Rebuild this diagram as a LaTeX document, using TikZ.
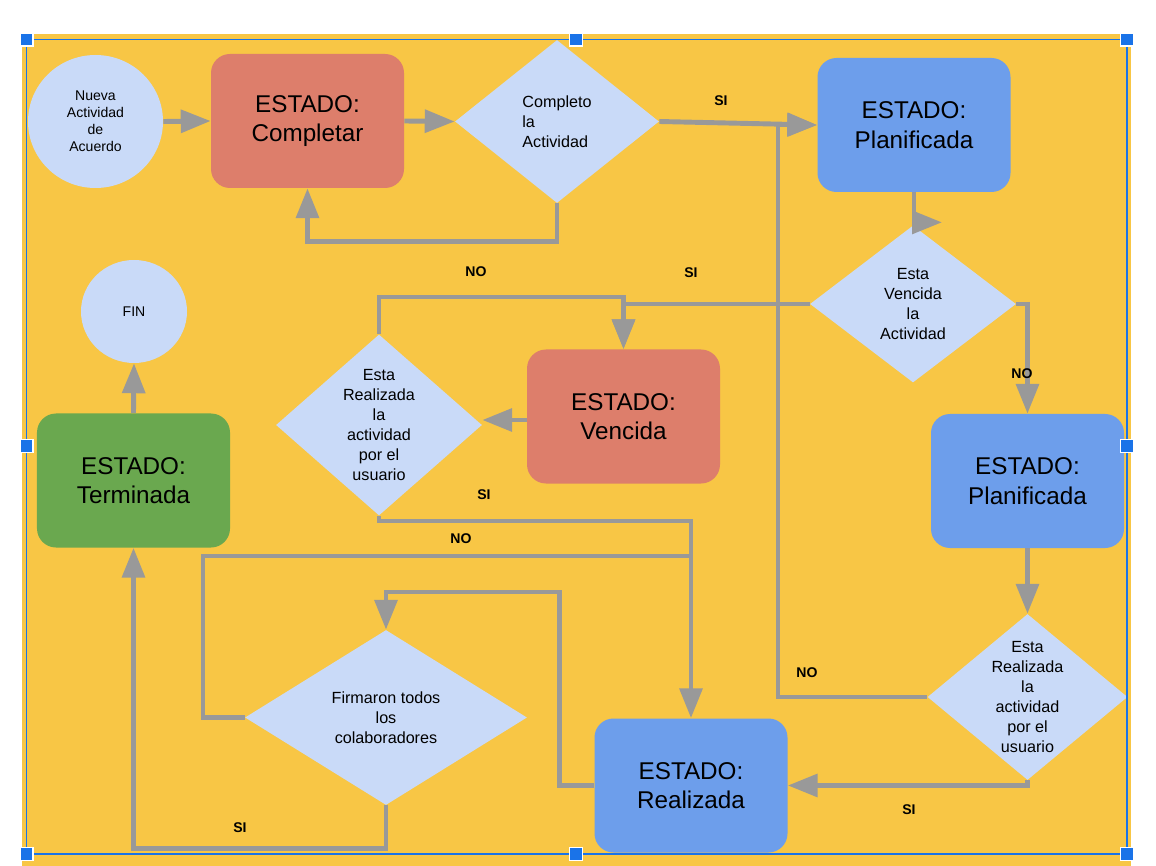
\documentclass[tikz,border=0pt]{standalone}
\usepackage{fontspec}
\setmainfont{Liberation Sans}
\usetikzlibrary{shapes.geometric,arrows.meta}
\definecolor{fondo}{HTML}{F8C645}
\definecolor{celeste}{HTML}{C9DAF8}
\definecolor{azul}{HTML}{6D9EEB}
\definecolor{salmon}{HTML}{DD7E6B}
\definecolor{verde}{HTML}{6AA84F}
\definecolor{gris}{HTML}{999999}
\definecolor{seleccion}{HTML}{1A73E8}

\begin{document}
\begin{tikzpicture}[scale=0.2,
    estado/.style={rounded corners=0.38cm, minimum width=3.86cm, minimum height=2.68cm, align=center, font=\fontsize{13.8}{16.8}\selectfont},
    pregunta/.style={diamond, fill=celeste, inner sep=0pt},
    circulo/.style={ellipse, fill=celeste, inner sep=0pt, align=center, font=\fontsize{8}{9.6}\selectfont},
    texto/.style={align=center, font=\fontsize{9.2}{11.4}\selectfont},
    flujo/.style={draw=gris, line width=2.8pt, -{Triangle[length=17pt,width=12.8pt]}},
    linea/.style={draw=gris, line width=2.8pt},
    etiqueta/.style={font=\bfseries\fontsize{8}{9.6}\selectfont}]
        \useasboundingbox (0,0) rectangle (115.6,-86.6);
        \fill [fondo] (2.2,-3.4) rectangle (113.1,-86.6);
        % nodos
        \node [circulo, minimum width=2.7cm, minimum height=2.66cm] (nueva) at (9.55,-12.15) {Nueva\\Actividad\\de\\Acuerdo};
        \node [estado, fill=salmon] (completar) at (30.75,-12.1) {ESTADO:\\Completar};
        \node [pregunta, minimum width=4.08cm, minimum height=3.26cm] (q1) at (55.7,-12.15) {};
        \node [texto, align=left] (q1t) at (q1) {Completo\\la\\Actividad};
        \node [estado, fill=azul] (plan1) at (91.4,-12.5) {ESTADO:\\Planificada};
        \node [pregunta, minimum width=4.12cm, minimum height=3.14cm] (q2) at (91.3,-30.4) {};
        \node [texto] (q2t) at (q2) {Esta\\Vencida\\la\\Actividad};
        \node [estado, fill=azul] (plan2) at (102.75,-48.1) {ESTADO:\\Planificada};
        \node [pregunta, minimum width=4.0cm, minimum height=3.32cm] (q3) at (102.75,-69.7) {};
        \node [texto] (q3t) at (q3) {Esta\\Realizada\\la\\actividad\\por el\\usuario};
        \node [estado, fill=azul] (realizada) at (69.1,-78.55) {ESTADO:\\Realizada};
        \node [pregunta, minimum width=5.64cm, minimum height=3.5cm] (q4) at (38.6,-71.75) {};
        \node [texto] (q4t) at (q4) {Firmaron todos\\los\\colaboradores};
        \node [estado, fill=verde] (terminada) at (13.35,-48.05) {ESTADO:\\Terminada};
        \node [circulo, minimum width=2.12cm, minimum height=2.06cm] (fin) at (13.4,-31.15) {FIN};
        \node [estado, fill=salmon] (vencida) at (62.35,-41.65) {ESTADO:\\Vencida};
        \node [pregunta, minimum width=4.12cm, minimum height=3.62cm] (q5) at (37.9,-42.5) {};
        \node [texto] (q5t) at (q5) {Esta\\Realizada\\la\\actividad\\por el\\usuario};
        \coordinate (c1) at (62.35,-29.7);
        \coordinate (c2) at (69.1,-52.1);
        \coordinate (c3) at (20.3,-55.6);
        \coordinate (c4) at (69.1,-55.6);
        \coordinate (c5) at (38.6,-59.2);
        \coordinate (c6) at (77.8,-12.5);
        % conectores
        \draw [flujo] (nueva.east) -- (completar.west);
        \draw [flujo] (completar.east) -- (q1.west);
        \draw [flujo] (q1.south) -- ++(0,-3.8) -| (completar.south);
        \draw [flujo] (q1.east) -- (plan1.west);
        \draw [flujo] (plan1.south) -- ++(0,-3.0) -- ++(2.8,0);
        \draw [flujo] (q2.west) -| (vencida.north);
        \draw [flujo] (q5.north) |- (c1) -- (vencida.north);
        \draw [flujo] (q2.east) -| (plan2.north);
        \draw [flujo] (plan2.south) -- (q3.north);
        \draw [flujo] (q3.south) |- (realizada.east);
        \draw [flujo] (q3.west) -| (c6) -- (plan1.west);
        \draw [flujo] (vencida.west |- 0,-42.0) -- (q5.east |- 0,-42.0);
        \draw [flujo] (q5.south) |- (c2) -- (realizada.north);
        \draw [linea] (q4.west) -| (c3) -- (c4);
        \draw [flujo] (realizada.west) -- ++(-3.5,0) |- (c5) -- (q4.north);
        \draw [flujo] (q4.south) -- ++(0,-4.3) -| (terminada.south);
        \draw [flujo] (terminada.north) -- (fin.south);
        % etiquetas
        \node [etiqueta] (e1) at (72.1,-10.1) {SI};
        \node [etiqueta] (e2) at (47.6,-27.2) {NO};
        \node [etiqueta] (e3) at (69.1,-27.3) {SI};
        \node [etiqueta] (e4) at (102.2,-37.4) {NO};
        \node [etiqueta] (e5) at (48.4,-49.5) {SI};
        \node [etiqueta] (e6) at (46.1,-53.9) {NO};
        \node [etiqueta] (e7) at (80.7,-67.3) {NO};
        \node [etiqueta] (e8) at (24.0,-82.8) {SI};
        \node [etiqueta] (e9) at (90.9,-81.0) {SI};
        % seleccion
        \draw [seleccion, line width=1.1pt] (2.65,-3.95) rectangle (112.7,-85.4);
        \filldraw [fill=seleccion, draw=white, line width=0.7pt] (2.0,-3.3) rectangle (3.3,-4.6);
        \filldraw [fill=seleccion, draw=white, line width=0.7pt] (56.95,-3.3) rectangle (58.25,-4.6);
        \filldraw [fill=seleccion, draw=white, line width=0.7pt] (112.05,-3.3) rectangle (113.35,-4.6);
        \filldraw [fill=seleccion, draw=white, line width=0.7pt] (2.0,-43.95) rectangle (3.3,-45.25);
        \filldraw [fill=seleccion, draw=white, line width=0.7pt] (112.05,-43.95) rectangle (113.35,-45.25);
        \filldraw [fill=seleccion, draw=white, line width=0.7pt] (2.0,-84.75) rectangle (3.3,-86.05);
        \filldraw [fill=seleccion, draw=white, line width=0.7pt] (56.95,-84.75) rectangle (58.25,-86.05);
        \filldraw [fill=seleccion, draw=white, line width=0.7pt] (112.05,-84.75) rectangle (113.35,-86.05);
\end{tikzpicture}
\end{document}
